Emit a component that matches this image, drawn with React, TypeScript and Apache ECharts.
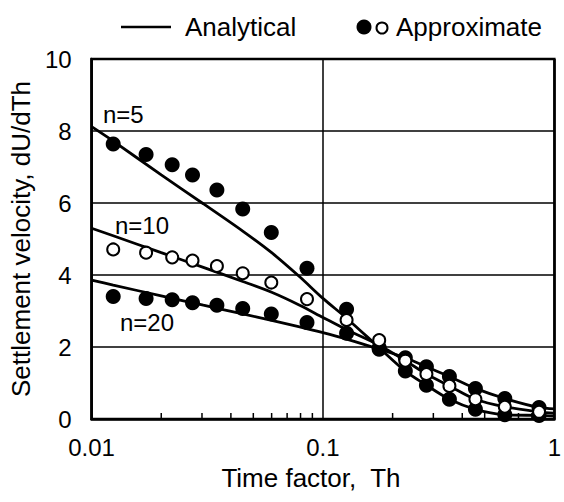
import React, { useEffect, useRef } from "react";
import * as echarts from "echarts";

// Time factor of the approximate (marker) points
const thPoints = [0.0124, 0.0172, 0.0223, 0.0273, 0.0348, 0.045, 0.0598, 0.0853, 0.1265, 0.175, 0.227, 0.28, 0.352, 0.456, 0.611, 0.859];
const approxN5 = [7.64, 7.35, 7.06, 6.78, 6.36, 5.83, 5.18, 4.19, 3.05, 1.98, 1.33, 0.94, 0.55, 0.27, 0.12, 0.1];
const approxN10 = [4.71, 4.62, 4.49, 4.4, 4.25, 4.05, 3.79, 3.33, 2.75, 2.19, 1.62, 1.25, 0.92, 0.55, 0.34, 0.2];
const approxN20 = [3.4, 3.35, 3.31, 3.23, 3.16, 3.07, 2.92, 2.68, 2.38, 1.94, 1.7, 1.45, 1.18, 0.85, 0.57, 0.32];

// Analytical curves
const thLine = [0.01, 0.0124, 0.02, 0.0304, 0.045, 0.06, 0.0793, 0.1, 0.1265, 0.175, 0.227, 0.28, 0.352, 0.456, 0.611, 0.859, 1.0];
const lineN5 = [8.12, 7.72, 6.78, 5.98, 5.22, 4.62, 3.95, 3.35, 2.8, 1.98, 1.33, 0.94, 0.55, 0.27, 0.12, 0.1, 0.08];
const lineN10 = [5.3, 5.09, 4.62, 4.21, 3.82, 3.52, 3.16, 2.82, 2.48, 2.05, 1.62, 1.25, 0.92, 0.55, 0.34, 0.2, 0.16];
const lineN20 = [3.86, 3.72, 3.42, 3.16, 2.92, 2.74, 2.56, 2.4, 2.22, 1.94, 1.7, 1.45, 1.18, 0.85, 0.57, 0.32, 0.28];

const xTickLabels: Record<number, string> = { [-2]: "0.01", [-1]: "0.1", [0]: "1" };
const minorTicks = [0.02, 0.03, 0.04, 0.05, 0.06, 0.07, 0.08, 0.09, 0.2, 0.3, 0.4, 0.5, 0.6, 0.7, 0.8, 0.9];

const curveLabels = ["n=5", "n=10", "n=20"];

const FONT = "'Liberation Sans', Arial, Helvetica, sans-serif";

const pairs = (xs: number[], ys: number[]) => xs.map((x, i) => [x, ys[i]]);

export default function App() {
  const ref = useRef<HTMLDivElement>(null);
  useEffect(() => {
    if (!ref.current) return;
    const chart = echarts.init(ref.current, undefined, { renderer: "svg" });
    const lineStyle = { color: "#000", width: 2.8 };
    const option: any = {
      animation: false,
      backgroundColor: "#fff",
      grid: { left: 86, right: 5, top: 59, bottom: 83, show: true, borderColor: "#000", borderWidth: 2.5, backgroundColor: "transparent" },
      xAxis: {
        type: "log",
        logBase: 10,
        min: 0.01,
        max: 1,
        name: "Time factor,  Th",
        nameLocation: "middle",
        nameGap: 46,
        nameTextStyle: { color: "#000", fontSize: 26, fontFamily: FONT, padding: [0, 24, 0, 0] },
        axisLine: { show: true, lineStyle: { color: "#000", width: 2.5 } },
        axisTick: { show: false },
        minorTick: { show: false },
        axisLabel: {
          color: "#000",
          fontSize: 24,
          fontFamily: FONT,
          margin: 16,
          formatter: (v: number) => xTickLabels[Math.round(Math.log10(v))] ?? "",
        },
        splitLine: { show: true, lineStyle: { color: "#000", width: 1.5 } },
      },
      yAxis: {
        type: "value",
        min: 0,
        max: 10,
        interval: 2,
        name: "Settlement velocity, dU/dTh",
        nameLocation: "middle",
        nameGap: 51,
        nameTextStyle: { color: "#000", fontSize: 26, fontFamily: FONT },
        axisLine: { show: true, lineStyle: { color: "#000", width: 2.5 } },
        axisTick: { show: false },
        axisLabel: { color: "#000", fontSize: 24, fontFamily: FONT, margin: 20 },
        splitLine: { show: true, lineStyle: { color: "#000", width: 1.5 } },
      },
      graphic: [
        { type: "line", shape: { x1: 121, y1: 27, x2: 171, y2: 27 }, style: { stroke: "#000", lineWidth: 2.5 } },
        { type: "text", x: 185, y: 27, style: { text: "Analytical", fontSize: 26, fontFamily: FONT, fill: "#000", verticalAlign: "middle" } },
        { type: "circle", shape: { cx: 364, cy: 27, r: 7.5 }, style: { fill: "#000" } },
        { type: "circle", shape: { cx: 382, cy: 28, r: 5.5 }, style: { fill: "#fff", stroke: "#000", lineWidth: 2 } },
        { type: "text", x: 396, y: 27, style: { text: "Approximate", fontSize: 26, fontFamily: FONT, fill: "#000", verticalAlign: "middle" } },
        { type: "text", x: 103, y: 114, style: { text: curveLabels[0], fontSize: 24, fontFamily: FONT, fill: "#000", verticalAlign: "middle" } },
        { type: "text", x: 115, y: 225, style: { text: curveLabels[1], fontSize: 24, fontFamily: FONT, fill: "#000", verticalAlign: "middle" } },
        { type: "text", x: 120, y: 322, style: { text: curveLabels[2], fontSize: 24, fontFamily: FONT, fill: "#000", verticalAlign: "middle" } },
      ],
      series: [
        {
          type: "custom",
          silent: true,
          data: minorTicks.map((v) => [v, 0]),
          renderItem: (_p: any, api: any) => {
            const pt = api.coord([api.value(0), 0]);
            return {
              type: "line",
              shape: { x1: pt[0], y1: pt[1], x2: pt[0], y2: pt[1] - 6 },
              style: { stroke: "#000", lineWidth: 1.5 },
            };
          },
          z: 3,
        },
        { type: "line", data: pairs(thLine, lineN5), showSymbol: false, symbol: "none", smooth: 0.3, lineStyle, z: 4 },
        { type: "line", data: pairs(thLine, lineN10), showSymbol: false, symbol: "none", smooth: 0.3, lineStyle, z: 4 },
        { type: "line", data: pairs(thLine, lineN20), showSymbol: false, symbol: "none", smooth: 0.3, lineStyle, z: 4 },
        { type: "scatter", data: pairs(thPoints, approxN20), symbol: "circle", symbolSize: 15, itemStyle: { color: "#000", opacity: 1 }, z: 5 },
        { type: "scatter", data: pairs(thPoints, approxN5), symbol: "circle", symbolSize: 15, itemStyle: { color: "#000", opacity: 1 }, z: 5 },
        { type: "scatter", data: pairs(thPoints, approxN10), symbol: "circle", symbolSize: 12, itemStyle: { color: "#fff", borderColor: "#000", borderWidth: 2, opacity: 1 }, z: 6 },
      ],
    };
    chart.setOption(option);
    return () => chart.dispose();
  }, []);
  return <div ref={ref} style={{ width: 564, height: 502, position: "absolute", left: 0, top: 0 }} />;
}
